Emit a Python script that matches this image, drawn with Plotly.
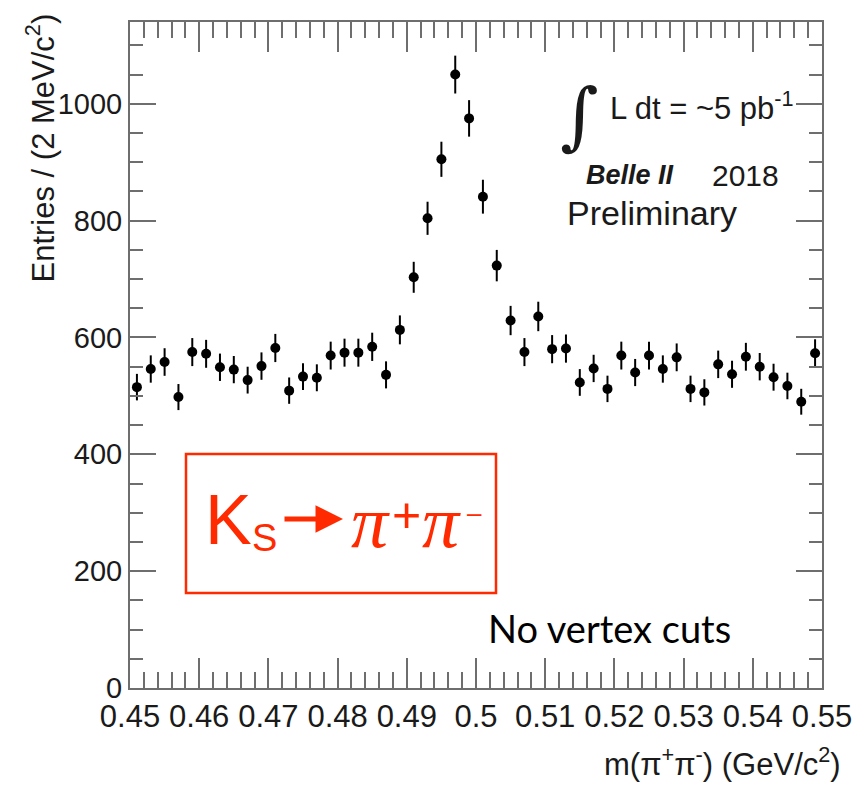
import numpy as np
import plotly.graph_objects as go

# pi+ pi- invariant mass histogram, 2 MeV/c^2 bins from 0.45 to 0.55 GeV/c^2
mass_centers = [
    0.451, 0.453, 0.455, 0.457, 0.459, 0.461, 0.463, 0.465, 0.467, 0.469,
    0.471, 0.473, 0.475, 0.477, 0.479, 0.481, 0.483, 0.485, 0.487, 0.489,
    0.491, 0.493, 0.495, 0.497, 0.499, 0.501, 0.503, 0.505, 0.507, 0.509,
    0.511, 0.513, 0.515, 0.517, 0.519, 0.521, 0.523, 0.525, 0.527, 0.529,
    0.531, 0.533, 0.535, 0.537, 0.539, 0.541, 0.543, 0.545, 0.547, 0.549,
]
entries = [
    515, 546, 558, 498, 575, 572, 549, 545, 527, 551,
    582, 509, 533, 531, 569, 574, 574, 584, 536, 613,
    703, 804, 905, 1050, 975, 841, 723, 629, 575, 636,
    580, 581, 523, 547, 512, 569, 540, 569, 546, 566,
    512, 506, 554, 537, 567, 550, 532, 517, 490, 573,
]
# Poisson uncertainties on the bin contents
entry_errors = np.sqrt(np.array(entries, dtype=float))

x_tick_vals = [0.45, 0.46, 0.47, 0.48, 0.49, 0.50, 0.51, 0.52, 0.53, 0.54, 0.55]
x_tick_text = ["0.45", "0.46", "0.47", "0.48", "0.49", "0.5",
               "0.51", "0.52", "0.53", "0.54", "0.55"]
y_tick_vals = [0, 200, 400, 600, 800, 1000]
y_tick_text = ["0", "200", "400", "600", "800", "1000"]

W, H = 864, 786
L_M, R_M, T_M, B_M = 130, 42, 22, 98
PW, PH = W - L_M - R_M, H - T_M - B_M


def fx(px):
    """Pixel column -> paper x."""
    return (px - L_M) / PW


def fy(py):
    """Pixel row -> paper y."""
    return (H - B_M - py) / PH


ROOT_FONT = "Liberation Sans, Arial, Helvetica, sans-serif"
SERIF = "Liberation Serif, Times New Roman, serif"
FRAME = "#6e6e6e"
TXT = "#1a1a1a"
RED = "#ff2a00"

fig = go.Figure()
fig.add_trace(go.Scatter(
    x=mass_centers, y=entries, mode="markers",
    marker=dict(size=10, color="black"),
    error_y=dict(type="data", array=entry_errors, thickness=2, width=0, color="black"),
    showlegend=False,
))

axis_common = dict(
    showline=True, linecolor=FRAME, linewidth=2, mirror="ticks",
    ticks="inside", tickcolor=FRAME, tickwidth=1.5,
    showgrid=False, zeroline=False,
)
fig.update_xaxes(
    range=[0.45, 0.55], tickmode="array", tickvals=x_tick_vals, ticktext=x_tick_text,
    ticklen=30, tickfont=dict(family=ROOT_FONT, size=31, color=TXT),
    minor=dict(tickmode="linear", tick0=0.45, dtick=0.002, ticks="inside",
               ticklen=16, tickcolor=FRAME, tickwidth=1.5, showgrid=False),
    **axis_common,
)
fig.update_yaxes(
    range=[0, 1140], tickmode="array", tickvals=y_tick_vals, ticktext=y_tick_text,
    ticklen=26, tickfont=dict(family=ROOT_FONT, size=29, color=TXT),
    minor=dict(tickmode="linear", tick0=0, dtick=50, ticks="inside",
               ticklen=13, tickcolor=FRAME, tickwidth=1.5, showgrid=False),
    **axis_common,
)

ann = []
# axis titles
ann.append(dict(text="Entries / (2 MeV/c<sup>2</sup>)", x=fx(40), y=fy(12),
                xanchor="center", yanchor="top", textangle=-90,
                font=dict(family=ROOT_FONT, size=31, color=TXT)))
ann.append(dict(text="m(π<sup>+</sup>π<sup>-</sup>) (GeV/c<sup>2</sup>)", x=fx(843), y=fy(762),
                xanchor="right", yanchor="middle",
                font=dict(family=ROOT_FONT, size=31, color=TXT)))
# luminosity / experiment labels
ann.append(dict(text="∫", x=fx(579), y=fy(115), xanchor="center", yanchor="middle",
                font=dict(family="DejaVu Serif, serif", size=74, color=TXT)))
ann.append(dict(text="L dt = ~5 pb<sup>-1</sup>", x=fx(608), y=fy(106),
                xanchor="left", yanchor="middle",
                font=dict(family=ROOT_FONT, size=31, color=TXT)))
ann.append(dict(text="<b><i>Belle II</i></b>", x=fx(584), y=fy(175),
                xanchor="left", yanchor="middle",
                font=dict(family=ROOT_FONT, size=27, color=TXT)))
ann.append(dict(text="2018", x=fx(710), y=fy(175),
                xanchor="left", yanchor="middle",
                font=dict(family=ROOT_FONT, size=30, color=TXT)))
ann.append(dict(text="Preliminary", x=fx(565), y=fy(213),
                xanchor="left", yanchor="middle",
                font=dict(family=ROOT_FONT, size=34, color=TXT)))
# decay label in the red box
ann.append(dict(text="K", x=fx(203), y=fy(520), xanchor="left", yanchor="middle",
                font=dict(family=ROOT_FONT, size=70, color=RED)))
ann.append(dict(text="S", x=fx(250), y=fy(538), xanchor="left", yanchor="middle",
                font=dict(family=ROOT_FONT, size=38, color=RED)))
ann.append(dict(text="", x=fx(343), y=fy(519), ax=-60, ay=0, showarrow=True,
                arrowhead=2, arrowsize=1.1, arrowwidth=5, arrowcolor=RED))
ann.append(dict(text="<i>π</i>", x=fx(349), y=fy(522), xanchor="left", yanchor="middle",
                font=dict(family=SERIF, size=74, color=RED)))
ann.append(dict(text="+", x=fx(406), y=fy(515), xanchor="center", yanchor="middle",
                font=dict(family=ROOT_FONT, size=50, color=RED)))
ann.append(dict(text="<i>π</i>", x=fx(420), y=fy(522), xanchor="left", yanchor="middle",
                font=dict(family=SERIF, size=74, color=RED)))
ann.append(dict(text="–", x=fx(474), y=fy(513), xanchor="center", yanchor="middle",
                font=dict(family=ROOT_FONT, size=26, color=RED)))
ann.append(dict(text="No vertex cuts", x=fx(486), y=fy(628), xanchor="left", yanchor="middle",
                font=dict(family="Lato, Carlito, sans-serif", size=38, color="black")))

for a in ann:
    a.setdefault("showarrow", False)
    a["xref"] = "paper"
    a["yref"] = "paper"

fig.update_layout(
    width=W, height=H,
    margin=dict(l=L_M, r=R_M, t=T_M, b=B_M),
    paper_bgcolor="white", plot_bgcolor="white",
    annotations=ann,
    shapes=[dict(type="rect", xref="paper", yref="paper",
                 x0=fx(186), x1=fx(496), y0=fy(593), y1=fy(454),
                 line=dict(color=RED, width=2.5))],
)

fig.write_html("out.html")
